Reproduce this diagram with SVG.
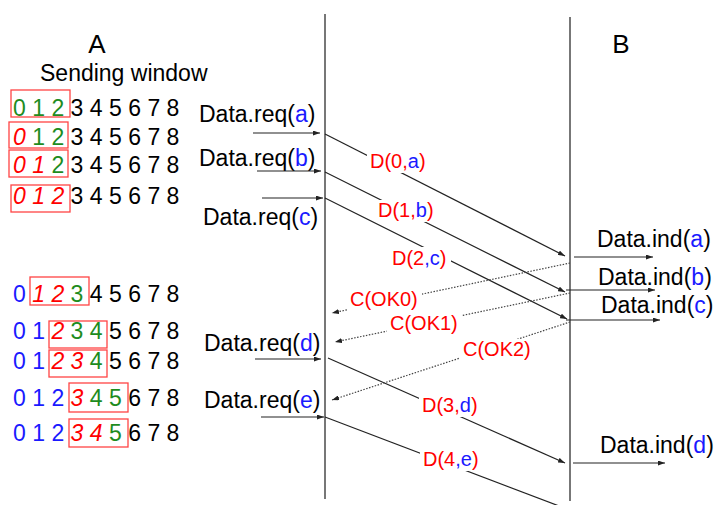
<svg xmlns="http://www.w3.org/2000/svg" width="715" height="505" viewBox="0 0 715 505">
<defs>
<style>
text{font-family:"Liberation Sans",Arial,sans-serif}
.dig{font-size:23px}
.lbl{font-size:23px;fill:#000}
.msg{font-size:20px;fill:#f00}
.b{fill:#1a1aff}.r{fill:#f00}.g{fill:#1e8c1e}.k{fill:#000}
.i{font-style:italic}
.win{fill:none;stroke:#f44;stroke-width:1.3}
.life{stroke:#777;stroke-width:2}
.sol{stroke:#222;stroke-width:1.2;fill:none}
.dot{stroke:#444;stroke-width:1.2;stroke-dasharray:1.5 1.5;fill:none}
.bg{fill:#fff}
</style>
<marker id="ah" markerWidth="7" markerHeight="5" refX="7" refY="2.5" orient="auto" markerUnits="userSpaceOnUse"><path d="M0,0 L7,2.5 L0,5 z" fill="#222"/></marker>
</defs>
<rect width="715" height="505" fill="#fff"/>

<g id="lifelines">
<line class="life" x1="325" y1="14" x2="325" y2="499"/>
<line class="life" x1="570" y1="17" x2="570" y2="501"/>
</g>

<g id="titles">
<text x="97" y="53" font-size="26" text-anchor="middle">A</text>
<text x="40" y="81" font-size="23">Sending window</text>
<text x="621" y="53" font-size="26" text-anchor="middle">B</text>
</g>

<g id="windows" class="dig">
<rect class="win" x="11" y="90" width="59" height="27"/>
<text y="116"><tspan x="13" class="g">0</tspan><tspan x="32.2" class="g">1</tspan><tspan x="51.4" class="g">2</tspan><tspan x="70.6" class="k">3</tspan><tspan x="89.8">4</tspan><tspan x="109">5</tspan><tspan x="128.2">6</tspan><tspan x="147.4">7</tspan><tspan x="166.6">8</tspan></text>
<rect class="win" x="9" y="122" width="59" height="26"/>
<text y="145"><tspan x="13" class="r i">0</tspan><tspan x="32.2" class="g">1</tspan><tspan x="51.4" class="g">2</tspan><tspan x="70.6" class="k">3</tspan><tspan x="89.8">4</tspan><tspan x="109">5</tspan><tspan x="128.2">6</tspan><tspan x="147.4">7</tspan><tspan x="166.6">8</tspan></text>
<rect class="win" x="9" y="150" width="59" height="27"/>
<text y="173"><tspan x="13" class="r i">0</tspan><tspan x="32.2" class="r i">1</tspan><tspan x="51.4" class="g">2</tspan><tspan x="70.6" class="k">3</tspan><tspan x="89.8">4</tspan><tspan x="109">5</tspan><tspan x="128.2">6</tspan><tspan x="147.4">7</tspan><tspan x="166.6">8</tspan></text>
<rect class="win" x="11" y="185" width="59" height="27"/>
<text y="204"><tspan x="13" class="r i">0</tspan><tspan x="32.2" class="r i">1</tspan><tspan x="51.4" class="r i">2</tspan><tspan x="70.6" class="k">3</tspan><tspan x="89.8">4</tspan><tspan x="109">5</tspan><tspan x="128.2">6</tspan><tspan x="147.4">7</tspan><tspan x="166.6">8</tspan></text>

<rect class="win" x="30" y="277" width="59" height="28"/>
<text y="302"><tspan x="13" class="b">0</tspan><tspan x="32.2" class="r i">1</tspan><tspan x="51.4" class="r i">2</tspan><tspan x="70.6" class="g">3</tspan><tspan x="89.8" class="k">4</tspan><tspan x="109">5</tspan><tspan x="128.2">6</tspan><tspan x="147.4">7</tspan><tspan x="166.6">8</tspan></text>
<rect class="win" x="49" y="321" width="58" height="27"/>
<text y="339"><tspan x="13" class="b">0</tspan><tspan x="32.2" class="b">1</tspan><tspan x="51.4" class="r i">2</tspan><tspan x="70.6" class="g">3</tspan><tspan x="89.8" class="g">4</tspan><tspan x="109" class="k">5</tspan><tspan x="128.2">6</tspan><tspan x="147.4">7</tspan><tspan x="166.6">8</tspan></text>
<rect class="win" x="49" y="350" width="58" height="27"/>
<text y="369"><tspan x="13" class="b">0</tspan><tspan x="32.2" class="b">1</tspan><tspan x="51.4" class="r i">2</tspan><tspan x="70.6" class="r i">3</tspan><tspan x="89.8" class="g">4</tspan><tspan x="109" class="k">5</tspan><tspan x="128.2">6</tspan><tspan x="147.4">7</tspan><tspan x="166.6">8</tspan></text>
<rect class="win" x="69" y="383" width="59" height="29"/>
<text y="406"><tspan x="13" class="b">0</tspan><tspan x="32.2" class="b">1</tspan><tspan x="51.4" class="b">2</tspan><tspan x="70.6" class="r i">3</tspan><tspan x="89.8" class="g">4</tspan><tspan x="109" class="g">5</tspan><tspan x="128.2" class="k">6</tspan><tspan x="147.4">7</tspan><tspan x="166.6">8</tspan></text>
<rect class="win" x="69" y="419" width="59" height="28"/>
<text y="441"><tspan x="13" class="b">0</tspan><tspan x="32.2" class="b">1</tspan><tspan x="51.4" class="b">2</tspan><tspan x="70.6" class="r i">3</tspan><tspan x="89.8" class="r i">4</tspan><tspan x="109" class="g">5</tspan><tspan x="128.2" class="k">6</tspan><tspan x="147.4">7</tspan><tspan x="166.6">8</tspan></text>
</g>

<g id="primitives" class="lbl">
<text x="199" y="122">Data.req(<tspan class="b">a</tspan>)</text>
<text x="199" y="166">Data.req(<tspan class="b">b</tspan>)</text>
<text x="203" y="225">Data.req(<tspan class="b">c</tspan>)</text>
<text x="204" y="351">Data.req(<tspan class="b">d</tspan>)</text>
<text x="204" y="408">Data.req(<tspan class="b">e</tspan>)</text>
<text x="597" y="247">Data.ind(<tspan class="b">a</tspan>)</text>
<text x="598" y="285">Data.ind(<tspan class="b">b</tspan>)</text>
<text x="601" y="313">Data.ind(<tspan class="b">c</tspan>)</text>
<text x="600" y="453">Data.ind(<tspan class="b">d</tspan>)</text>
</g>

<g id="connectors">
<line class="sol" x1="253" y1="133" x2="320" y2="133" marker-end="url(#ah)"/>
<line class="sol" x1="257" y1="171" x2="321" y2="171" marker-end="url(#ah)"/>
<line class="sol" x1="262" y1="198" x2="323" y2="198" marker-end="url(#ah)"/>
<line class="sol" x1="255" y1="359" x2="321" y2="359" marker-end="url(#ah)"/>
<line class="sol" x1="261" y1="417" x2="324" y2="417" marker-end="url(#ah)"/>
<line class="sol" x1="574" y1="257" x2="653" y2="257" marker-end="url(#ah)"/>
<line class="sol" x1="566" y1="290" x2="655" y2="290" marker-end="url(#ah)"/>
<line class="sol" x1="566" y1="320" x2="660" y2="320" marker-end="url(#ah)"/>
<line class="sol" x1="573" y1="463" x2="665" y2="463" marker-end="url(#ah)"/>

<line class="sol" x1="325" y1="134" x2="565" y2="256" marker-end="url(#ah)"/>
<line class="sol" x1="325" y1="172" x2="565" y2="292" marker-end="url(#ah)"/>
<line class="sol" x1="325" y1="198" x2="567" y2="319" marker-end="url(#ah)"/>
<line class="sol" x1="328" y1="358" x2="565" y2="463" marker-end="url(#ah)"/>
<line class="sol" x1="325" y1="417" x2="567" y2="509"/>

<line class="dot" x1="570" y1="263" x2="332" y2="313" marker-end="url(#ah)"/>
<line class="dot" x1="570" y1="293" x2="335" y2="342" marker-end="url(#ah)"/>
<line class="dot" x1="570" y1="322" x2="332" y2="400" marker-end="url(#ah)"/>

<g class="msg">
<rect class="bg" x="367" y="151" width="63" height="22"/>
<text x="370" y="168">D(0,<tspan class="b">a</tspan>)</text>
<rect class="bg" x="375" y="200" width="63" height="22"/>
<text x="378" y="217">D(1,<tspan class="b">b</tspan>)</text>
<rect class="bg" x="389" y="247" width="62" height="23"/>
<text x="392" y="265">D(2<tspan class="b">,c</tspan>)</text>
<rect class="bg" x="347" y="289" width="75" height="22"/>
<text x="350" y="306">C(OK0)</text>
<rect class="bg" x="387" y="313" width="75" height="22"/>
<text x="390" y="330">C(OK1)</text>
<rect class="bg" x="460" y="339" width="75" height="22"/>
<text x="463" y="356">C(OK2)</text>
<rect class="bg" x="419" y="395" width="64" height="22"/>
<text x="422" y="412">D(3,<tspan class="b">d</tspan>)</text>
<rect class="bg" x="420" y="449" width="65" height="22"/>
<text x="423" y="466">D(4<tspan class="b">,e</tspan>)</text>
</g>
</g>
</svg>
